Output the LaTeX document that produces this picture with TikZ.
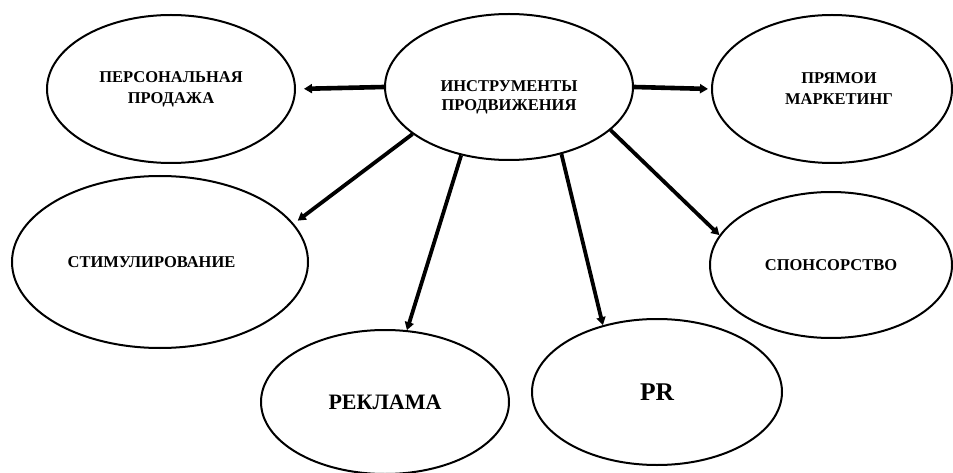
\documentclass[tikz,border=0pt]{standalone}
\usepackage{fontspec}
\setmainfont{Liberation Serif}
\usetikzlibrary{shapes.geometric, arrows.meta}

\begin{document}
\begin{tikzpicture}[x=1pt, y=-1pt,
    oval/.style={ellipse, draw, line width=2pt, inner sep=0pt, align=center,
        font=\bfseries\fontsize{16.5}{21}\selectfont},
    link/.style={line width=3.8pt, -{Triangle[length=8pt, width=9pt]}}]
    \useasboundingbox (0,0) rectangle (953,473);

    \node[oval, minimum width=248pt, minimum height=146pt,
        label={[font=\bfseries\fontsize{16.5}{19}\selectfont, align=center, yshift=-10pt]center:{ИНСТРУМЕНТЫ\\ПРОДВИЖЕНИЯ}}] (tools) at (509,87) {};
    \node[oval, minimum width=248pt, minimum height=148pt] (pers) at (171,89) {ПЕРСОНАЛЬНАЯ\\ПРОДАЖА};
    \node[oval, minimum width=240pt, minimum height=148pt] (direct) at (832,89) {\hspace*{14pt}ПРЯМОИ\\\hspace*{14pt}МАРКЕТИНГ};
    \node[oval, minimum width=296pt, minimum height=172pt] (stim) at (160,262) {СТИМУЛИРОВАНИЕ\hspace*{17pt}};
    \node[oval, minimum width=242pt, minimum height=146pt] (spons) at (831,265) {СПОНСОРСТВО};
    \node[oval, minimum width=248pt, minimum height=144pt, font=\bfseries\fontsize{22}{26}\selectfont] (ads) at (385,402) {РЕКЛАМА};
    \node[oval, minimum width=250pt, minimum height=146pt, font=\bfseries\fontsize{25.5}{30}\selectfont] (pr) at (657,392) {PR};

    \draw[link, line width=4.6pt, shorten >=8pt] (tools.west) -- (pers.east);
    \draw[link, line width=4.6pt, shorten >=3pt] (tools.east) -- (direct.west);
    \draw[link, shorten >=5pt] (tools.206) -- (stim.16);
    \draw[link] (tools.235) -- (ads.73);
    \draw[link] (tools.308) -- (pr.129);
    \draw[link] (tools.337) -- (spons.165);
\end{tikzpicture}
\end{document}
